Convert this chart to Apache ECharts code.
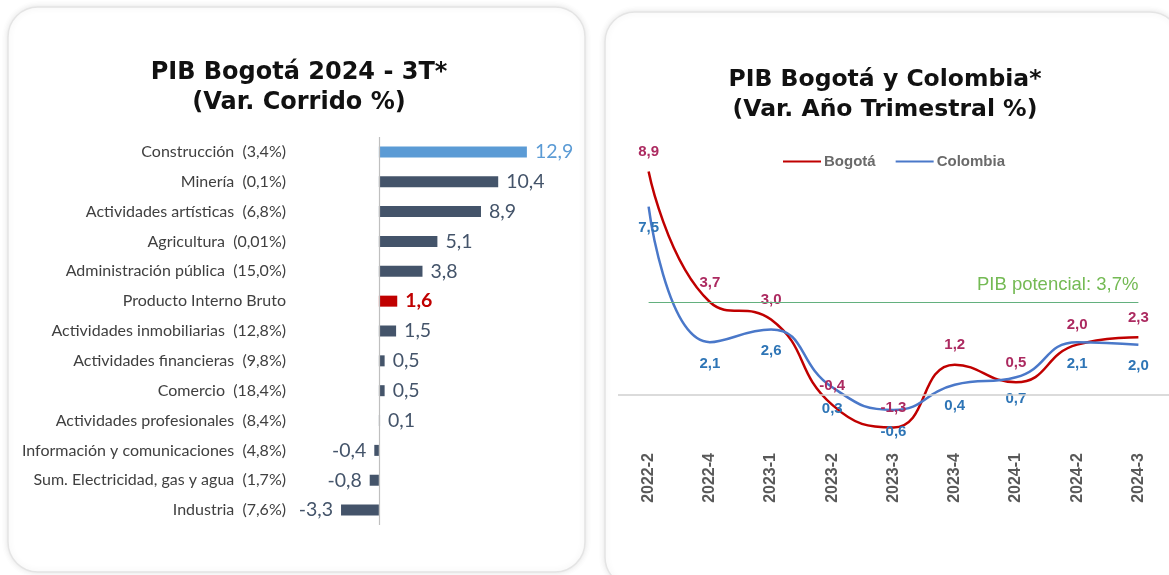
<!DOCTYPE html>
<html>
<head>
<meta charset="utf-8">
<script src="https://cdn.jsdelivr.net/npm/echarts@6/dist/echarts.min.js"></script>
<style>
  html, body { margin: 0; padding: 0; background: #ffffff; }
  #chart { width: 1169px; height: 575px; }
</style>
</head>
<body>
<div id="chart"></div>
<script>
// PIB Bogotá 2024 - 3T: variación año corrido por rama (participación entre paréntesis)
const sectores = [
  'Construcción  (3,4%)',
  'Minería  (0,1%)',
  'Actividades artísticas  (6,8%)',
  'Agricultura  (0,01%)',
  'Administración pública  (15,0%)',
  'Producto Interno Bruto',
  'Actividades inmobiliarias  (12,8%)',
  'Actividades financieras  (9,8%)',
  'Comercio  (18,4%)',
  'Actividades profesionales  (8,4%)',
  'Información y comunicaciones  (4,8%)',
  'Sum. Electricidad, gas y agua  (1,7%)',
  'Industria  (7,6%)'
];
const variacionCorrido = [12.9, 10.4, 8.9, 5.1, 3.8, 1.6, 1.5, 0.5, 0.5, 0.1, -0.4, -0.8, -3.3];

// PIB Bogotá y Colombia: variación anual trimestral
const trimestres = ['2022-2', '2022-4', '2023-1', '2023-2', '2023-3', '2023-4', '2024-1', '2024-2', '2024-3'];
const pibBogota = [8.9, 3.7, 3.0, -0.4, -1.3, 1.2, 0.5, 2.0, 2.3];
const pibColombia = [7.5, 2.1, 2.6, 0.3, -0.6, 0.4, 0.7, 2.1, 2.0];
const pibPotencial = 3.7;

const fmt = v => v.toFixed(1).replace('.', ',');

const BAR_DARK = '#44546A';
const barColorOf = name => {
  if (name.startsWith('Construcción')) return '#5B9BD5';
  if (name === 'Producto Interno Bruto') return '#C00000';
  return BAR_DARK;
};

const barData = variacionCorrido.map((v, i) => {
  const c = barColorOf(sectores[i]);
  return {
    value: v,
    itemStyle: { color: c },
    label: {
      position: v < 0 ? 'left' : 'right',
      color: c,
      fontWeight: c === '#C00000' ? 'bold' : 'normal'
    }
  };
});

const chart = echarts.init(document.getElementById('chart'), null, { renderer: 'canvas' });

const cardStyle = {
  fill: '#ffffff',
  stroke: '#e4e4e4',
  lineWidth: 1.5,
  shadowBlur: 6,
  shadowColor: 'rgba(0,0,0,0.10)'
};

chart.setOption({
  animation: false,
  backgroundColor: '#ffffff',
  graphic: [
    { type: 'rect', z: -10, silent: true, shape: { x: 8, y: 7, width: 577, height: 565, r: 30 }, style: cardStyle },
    { type: 'rect', z: -10, silent: true, shape: { x: 605, y: 12, width: 575, height: 575, r: 30 }, style: cardStyle }
  ],
  title: [
    {
      text: 'PIB Bogotá 2024 - 3T*\n(Var. Corrido %)',
      left: 294, top: 53, textAlign: 'center',
      textStyle: { fontFamily: 'DejaVu Sans', fontWeight: 'bold', fontSize: 24, lineHeight: 30, color: '#111111' }
    },
    {
      text: 'PIB Bogotá y Colombia*\n(Var. Año Trimestral %)',
      left: 880, top: 60, textAlign: 'center',
      textStyle: { fontFamily: 'DejaVu Sans', fontWeight: 'bold', fontSize: 23.5, lineHeight: 30, color: '#111111' }
    }
  ],
  legend: {
    data: ['Bogotá', 'Colombia'],
    left: 778, top: 149,
    icon: 'rect', itemWidth: 38, itemHeight: 2, itemGap: 20,
    textStyle: { fontFamily: 'Liberation Sans', fontWeight: 'bold', fontSize: 15, color: '#6a6a6a', padding: [0, 0, 0, -2] }
  },
  grid: [
    { left: 333, width: 206.5, top: 137, height: 388 },
    { left: 618, right: 0, top: 144, height: 301 }
  ],
  xAxis: [
    { gridIndex: 0, type: 'value', min: -4, max: 14, show: false },
    {
      gridIndex: 1, type: 'category', data: trimestres, boundaryGap: true,
      axisLine: { show: false }, axisTick: { show: false }, splitLine: { show: false },
      axisLabel: { rotate: 90, margin: 8, fontFamily: 'Liberation Sans', fontWeight: 'bold', fontSize: 16, color: '#595959' }
    }
  ],
  yAxis: [
    {
      gridIndex: 0, type: 'category', data: sectores, inverse: true,
      axisLine: { show: false }, axisTick: { show: false }, splitLine: { show: false },
      axisLabel: { margin: 47, fontFamily: 'Lato', fontSize: 16, color: '#404040' }
    },
    { gridIndex: 1, type: 'value', min: -2, max: 10, show: false, splitLine: { show: false } }
  ],
  series: [
    {
      name: 'Var. Corrido',
      type: 'bar', xAxisIndex: 0, yAxisIndex: 0,
      data: barData,
      barWidth: 11,
      label: {
        show: true, distance: 8,
        fontFamily: 'Lato', fontSize: 19.5,
        formatter: p => fmt(p.value)
      },
      markLine: {
        silent: true, symbol: 'none',
        lineStyle: { color: '#bfbfbf', type: 'solid', width: 1.2 },
        label: { show: false },
        data: [{ xAxis: 0 }]
      }
    },
    {
      name: 'Bogotá',
      type: 'line', xAxisIndex: 1, yAxisIndex: 1,
      data: pibBogota, smooth: 0.5,
      symbol: 'circle', symbolSize: 0, showSymbol: true,
      lineStyle: { color: '#C00000', width: 2.5 },
      itemStyle: { color: '#C00000' },
      label: {
        show: true, position: 'top', distance: 12,
        fontFamily: 'Liberation Sans', fontWeight: 'bold', fontSize: 15, color: '#AC2A60',
        formatter: p => fmt(p.value)
      },
      markLine: {
        silent: true, symbol: 'none',
        data: [
          [
            { coord: [0, pibPotencial], lineStyle: { color: '#63B07E', width: 1.2, type: 'solid' } },
            { coord: [trimestres.length - 1, pibPotencial] }
          ],
          [
            { yAxis: 0, x: 618, lineStyle: { color: '#cfcfcf', width: 1.5, type: 'solid' }, label: { show: false } },
            { yAxis: 0, x: 1169 }
          ]
        ],
        label: {
          show: true, position: 'insideEndTop', distance: [0, 8],
          formatter: 'PIB potencial: 3,7%',
          fontFamily: 'Liberation Sans', fontSize: 18.5, color: '#74BA54'
        }
      }
    },
    {
      name: 'Colombia',
      type: 'line', xAxisIndex: 1, yAxisIndex: 1,
      data: pibColombia, smooth: 0.5,
      symbol: 'circle', symbolSize: 0, showSymbol: true,
      lineStyle: { color: '#4A78C9', width: 2.5 },
      itemStyle: { color: '#4A78C9' },
      label: {
        show: true, position: 'bottom', distance: 14,
        fontFamily: 'Liberation Sans', fontWeight: 'bold', fontSize: 15, color: '#2E75B6',
        formatter: p => fmt(p.value)
      }
    }
  ]
});
</script>
</body>
</html>
